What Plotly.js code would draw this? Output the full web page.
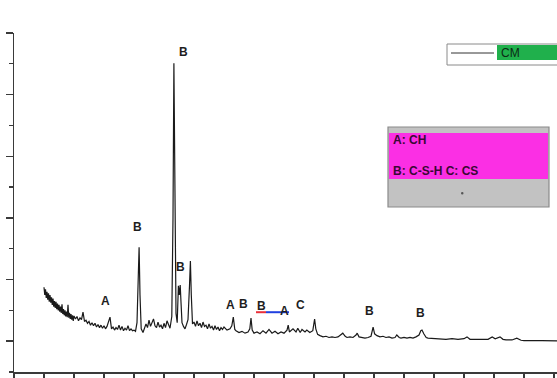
<!DOCTYPE html>
<html>
<head>
<meta charset="utf-8">
<script src="https://cdn.plot.ly/plotly-3.0.1.min.js"></script>
<style>html,body{margin:0;padding:0;background:#fff;}#chart{width:557px;height:378px;}</style>
</head>
<body>
<div id="chart"></div>
<script>
const twoTheta = [
  5.0, 5.125, 5.25, 5.375, 5.5, 5.625, 5.75, 5.875, 6.0, 6.125, 6.25, 6.375,
  6.5, 6.625, 6.75, 6.875, 7.0, 7.125, 7.25, 7.375, 7.5, 7.625, 7.75, 7.875,
  8.0, 8.125, 8.25, 8.375, 8.5, 8.625, 8.75, 8.875, 9.0, 9.125, 9.25, 9.375,
  9.5, 9.625, 9.75, 9.875, 10.0, 10.25, 10.5, 10.75,
  11.0, 11.25, 11.5, 11.75, 12.0, 12.25, 12.5, 12.75, 13.0, 13.25, 13.5, 13.75,
  14.0, 14.25, 14.5, 14.75, 15.0, 15.25, 15.5, 15.75, 16.0, 16.25, 16.5, 16.75,
  17.0, 17.25, 17.5, 17.75, 18.0, 18.25, 18.5, 18.75, 19.0, 19.25, 19.5, 19.75,
  20.0, 20.25, 20.5, 20.7, 20.85, 21.0, 21.2, 21.5, 21.75,
  22.0, 22.25, 22.5, 22.75, 23.0, 23.25, 23.5, 23.75, 24.0, 24.25, 24.5, 24.75,
  25.0, 25.25, 25.5, 25.75, 26.0, 26.3, 26.5, 26.65, 26.8, 27.0, 27.2, 27.4, 27.55, 27.7, 27.85,
  28.0, 28.25, 28.5, 28.75, 29.0, 29.25, 29.4, 29.55, 29.75,
  30.0, 30.25, 30.5, 30.75, 31.0, 31.25, 31.5, 31.75, 32.0, 32.25, 32.5, 32.75,
  33.0, 33.25, 33.5, 33.75, 34.0, 34.25, 34.5, 34.75, 35.0, 35.5, 36.0, 36.3, 36.55, 36.8,
  37.0, 37.5, 38.0, 38.5, 39.0, 39.3, 39.5, 39.7, 40.0, 40.5, 41.0, 41.5, 42.0, 42.5,
  43.0, 43.5, 44.0, 44.5, 45.0, 45.5, 45.7, 45.9, 46.5, 47.0, 47.3, 47.7, 48.0, 48.5, 48.8,
  49.3, 49.8, 50.1, 50.3, 50.6, 51.0, 51.5, 52.0, 52.5, 53.0, 53.5, 54.0, 54.5, 54.8,
  55.2, 55.5, 56.0, 56.5, 57.0, 57.2, 57.5, 58.0, 58.5, 59.0, 59.5, 59.85, 60.1, 60.5,
  61.0, 61.5, 62.0, 62.5, 63.0, 63.5, 63.8, 64.2, 64.5, 65.0, 65.5, 66.0, 66.5, 67.0,
  67.5, 67.8, 68.0, 68.3, 68.7, 69.0, 70.0, 71.0, 72.0, 73.0, 74.0, 75.0, 75.5, 76.0,
  77.0, 78.0, 79.0, 79.7, 80.2, 81.0, 81.5, 82.0, 83.0, 83.8, 84.5, 85.0, 86.0, 87.0,
  88.0, 89.0, 90.0, 90.5
];
const intensity = [
  175, 150, 168, 140, 160, 135, 155, 128, 150, 125, 142, 118,
  138, 112, 130, 108, 128, 104, 122, 100, 118, 96, 112, 92,
  120, 88, 104, 84, 100, 80, 96, 78, 118, 76, 92, 72,
  88, 70, 84, 66, 82, 72, 80, 66,
  76, 70, 94, 64, 68, 58, 64, 52, 60, 50, 58, 46,
  54, 44, 52, 42, 50, 40, 48, 62, 78, 40, 46, 36,
  44, 38, 52, 36, 48, 34, 42, 36, 50, 34, 40, 34,
  36, 32, 60, 200, 305, 150, 40, 28, 40,
  56, 44, 68, 48, 58, 72, 50, 44, 62, 46, 52, 40,
  58, 44, 66, 50, 42, 80, 400, 902, 420, 90, 60, 180, 150, 182, 120,
  60, 48, 40, 54, 70, 180, 260, 150, 56,
  62, 48, 66, 50, 58, 44, 62, 48, 52, 40, 56, 42,
  48, 36, 50, 38, 46, 34, 44, 38, 46, 36, 40, 50, 78, 38,
  34, 28, 32, 26, 30, 40, 75, 36, 26, 30, 24, 34, 26, 38,
  26, 32, 24, 30, 26, 36, 52, 30, 40, 30, 42, 28, 38, 30, 36,
  28, 34, 72, 40, 22, 18, 14, 16, 12, 14, 12, 14, 20, 26,
  16, 12, 14, 12, 20, 26, 14, 12, 10, 12, 16, 46, 24, 18,
  14, 16, 12, 14, 10, 12, 20, 12, 10, 12, 10, 12, 10, 14,
  20, 34, 36, 24, 12, 10, 8, 8, 6, 8, 6, 8, 14, 6,
  6, 4, 6, 14, 8, 14, 6, 4, 4, 10, 3, 2, 3, 2,
  2, 1, 1, 1
];
// phase labels placed above the peaks
const labelText = ["A", "B", "B", "B", "A", "B", "B", "A", "C", "B", "B"];
const labelX = [15.33, 20.5, 28.33, 27.83, 36.0, 38.33, 41.17, 45.0, 47.83, 59.33, 67.83];
const labelY = [130, 370, 938, 240, 117, 120, 114, 97, 117, 97, 91];
// red/blue marker segment under the B/A labels
const markX = [40.33, 42.0, 45.83];
const markY = 94;
const seriesName = "CM";
const keyLines = ["A: CH", "B: C-S-H C: CS"];

const L = 14, T = 33, W = 557, H = 378, PW = 543, PH = 339;
const PX = p => (p - L) / PW;
const PY = p => (T + PH - p) / PH;

const traces = [
  {x: twoTheta, y: intensity, type: 'scatter', mode: 'lines', name: seriesName,
   line: {color: '#1a1a1a', width: 1.2}, showlegend: false, hoverinfo: 'skip'},
  {x: markX.slice(0, 2), y: [markY, markY], type: 'scatter', mode: 'lines',
   line: {color: '#e8303a', width: 2}, showlegend: false, hoverinfo: 'skip'},
  {x: markX.slice(1), y: [markY, markY], type: 'scatter', mode: 'lines',
   line: {color: '#2040e0', width: 2}, showlegend: false, hoverinfo: 'skip'}
];

const annotations = labelText.map((t, i) => ({
  x: labelX[i], y: labelY[i], xref: 'x', yref: 'y', text: '<b>' + t + '</b>',
  showarrow: false, font: {family: 'Liberation Sans, Arial, sans-serif', size: 12, color: '#1e1e1e'}
}));

annotations.push({x: PX(499), y: PY(53), xref: 'paper', yref: 'paper', xanchor: 'left', yanchor: 'middle',
  text: seriesName, showarrow: false, font: {family: 'Liberation Sans, Arial, sans-serif', size: 12, color: '#0c2a14'}});
annotations.push({x: PX(391), y: PY(140), xref: 'paper', yref: 'paper', xanchor: 'left', yanchor: 'middle',
  text: '<b>' + keyLines[0] + '</b>', showarrow: false, font: {family: 'Liberation Sans, Arial, sans-serif', size: 12, color: '#3a0834'}});
annotations.push({x: PX(391), y: PY(171), xref: 'paper', yref: 'paper', xanchor: 'left', yanchor: 'middle',
  text: '<b>' + keyLines[1] + '</b>', showarrow: false, font: {family: 'Liberation Sans, Arial, sans-serif', size: 12, color: '#3a0834'}});

const shapes = [
  // legend box
  {type: 'rect', xref: 'paper', yref: 'paper', x0: PX(447), x1: PX(558), y0: PY(65), y1: PY(44),
   fillcolor: '#ffffff', line: {color: '#8a8a8a', width: 1}},
  {type: 'line', xref: 'paper', yref: 'paper', x0: PX(451), x1: PX(494), y0: PY(53), y1: PY(53),
   line: {color: '#333', width: 1}},
  {type: 'rect', xref: 'paper', yref: 'paper', x0: PX(497), x1: PX(558), y0: PY(60), y1: PY(45),
   fillcolor: '#20b04c', line: {width: 0}},
  // key box
  {type: 'rect', xref: 'paper', yref: 'paper', x0: PX(388), x1: PX(549), y0: PY(207), y1: PY(127),
   fillcolor: '#c2c2c2', line: {color: '#8a8a8a', width: 1.2}},
  {type: 'rect', xref: 'paper', yref: 'paper', x0: PX(389), x1: PX(548), y0: PY(179), y1: PY(133),
   fillcolor: '#fb2fe4', line: {width: 0}},
  {type: 'circle', xref: 'paper', yref: 'paper', x0: PX(461), x1: PX(463.5), y0: PY(194.5), y1: PY(192),
   fillcolor: '#555', line: {width: 0}}
];

const axisCommon = {
  showgrid: false, zeroline: false, showline: true, linecolor: '#3a3a3a', linewidth: 1.5,
  ticks: 'outside', ticklen: 7, tickwidth: 1.5, tickcolor: '#3a3a3a', showticklabels: false, mirror: false
};

const layout = {
  width: W, height: H,
  margin: {l: L, r: W - L - PW, t: T, b: H - T - PH, pad: 0},
  paper_bgcolor: '#ffffff', plot_bgcolor: '#ffffff',
  showlegend: false,
  xaxis: Object.assign({}, axisCommon, {range: [0, 90.5], dtick: 10, tick0: 0,
    minor: {dtick: 5, ticks: 'outside', ticklen: 4, tickwidth: 1.2, tickcolor: '#3a3a3a'}}),
  yaxis: Object.assign({}, axisCommon, {range: [-100, 1000], dtick: 200, tick0: 0,
    minor: {dtick: 100, ticks: 'outside', ticklen: 4, tickwidth: 1.2, tickcolor: '#3a3a3a'}}),
  shapes: shapes,
  annotations: annotations
};

Plotly.newPlot('chart', traces, layout, {displayModeBar: false, staticPlot: true});
</script>
</body>
</html>
